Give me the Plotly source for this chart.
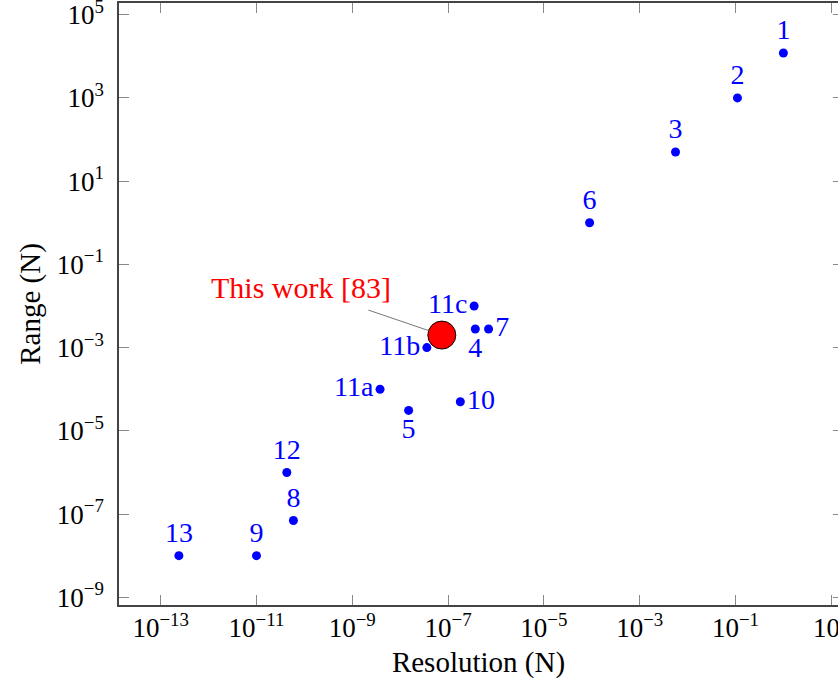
import plotly.graph_objects as go
import numpy as np

labels = ["1", "2", "3", "6", "11c", "4", "7", "11b", "11a", "5", "10", "12", "8", "9", "13"]
resolution = [1.0, 0.11, 5.6e-3, 9e-5, 3.5e-7, 3.7e-7, 7e-7, 3.6e-8, 3.8e-9, 1.5e-8, 1.8e-7, 4.3e-11, 5.9e-11, 1e-11, 2.4e-13]
range_n = [1.2e4, 1e3, 50, 1.0, 1e-2, 2.8e-3, 2.8e-3, 1e-3, 1e-4, 3.1e-5, 5e-5, 1e-6, 7e-8, 1e-8, 1e-8]
label_pos = ["top center", "top center", "top center", "top center", "middle left", "bottom center",
             "middle right", "middle left", "middle left", "bottom center", "middle right",
             "top center", "top center", "top center", "top center"]

this_work_label = "This work [83]"
this_work_res = [7.4e-8]
this_work_range = [2e-3]

x_exps = [-13, -11, -9, -7, -5, -3, -1, 1]
y_exps = [-9, -7, -5, -3, -1, 1, 3, 5]

FONT = "Liberation Serif"
BLUE = "#0000FF"

def sup(e):
    s = str(e).replace("-", "\u2212")
    return f"10<sup>{s}</sup>"

fig = go.Figure()
fig.add_trace(go.Scatter(
    x=resolution, y=range_n, mode="markers+text", text=labels,
    textposition=label_pos,
    textfont=dict(family=FONT, size=28, color=BLUE),
    marker=dict(color=BLUE, size=9),
    showlegend=False, hoverinfo="skip"))
fig.add_trace(go.Scatter(
    x=this_work_res, y=this_work_range, mode="markers",
    marker=dict(color="#FF0000", size=28, line=dict(color="black", width=1)),
    showlegend=False, hoverinfo="skip"))
# mirrored right ticks
fig.add_trace(go.Scatter(x=[None], y=[None], yaxis="y2", showlegend=False))

fig.add_annotation(
    x=np.log10(this_work_res[0]), y=np.log10(this_work_range[0]), xref="x", yref="y",
    text=this_work_label, showarrow=True, arrowhead=0, arrowwidth=1, arrowcolor="#777777",
    ax=-141, ay=-48, standoff=14, borderpad=6,
    font=dict(family=FONT, size=30, color="#FF0000"))

axis_common = dict(
    type="log", showgrid=False, zeroline=False, showline=True, linecolor="#444444", linewidth=1.5,
    ticks="inside", ticklen=10, tickcolor="#888888", tickwidth=1,
    tickfont=dict(family=FONT, size=27, color="black"),
    title_font=dict(family=FONT, size=29, color="black"),
    automargin=False, ticklabeloverflow="allow",
)

fig.update_layout(
    width=838, height=685,
    margin=dict(l=119, r=0, t=3, b=80),
    paper_bgcolor="white", plot_bgcolor="white",
    xaxis=dict(axis_common, range=[-13.87, 1.14], mirror="ticks",
               tickvals=[10.0 ** e for e in x_exps], ticktext=[sup(e) for e in x_exps],
               ticklabelstandoff=-2,
               title=dict(text="Resolution (N)", standoff=10)),
    yaxis=dict(axis_common, range=[-9.185, 5.28], mirror=False,
               tickvals=[10.0 ** e for e in y_exps], ticktext=[sup(e) for e in y_exps],
               ticklabelstandoff=8,
               title=dict(text="Range (N)", standoff=8)),
    yaxis2=dict(type="log", overlaying="y", side="right", matches="y", range=[-9.185, 5.28],
                showgrid=False, zeroline=False, showline=False, showticklabels=False,
                ticks="inside", ticklen=5, tickcolor="#888888", tickwidth=1,
                tickvals=[10.0 ** e for e in y_exps]),
)

fig.write_html("out.html", config={"displayModeBar": False},
               post_script="document.body.style.margin='0';")
